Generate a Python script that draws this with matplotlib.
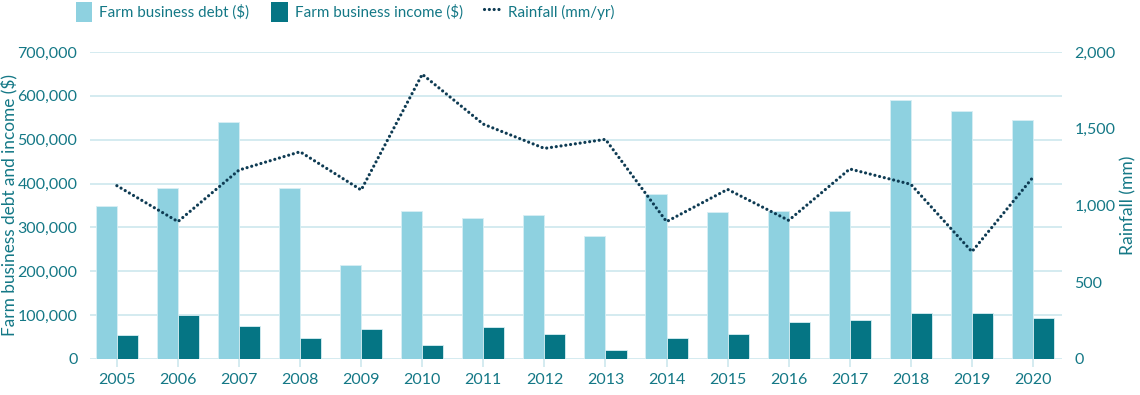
import matplotlib
matplotlib.use("Agg")
import matplotlib.pyplot as plt
import numpy as np
from matplotlib.ticker import FuncFormatter, FixedLocator
from matplotlib.patches import Patch
from matplotlib.lines import Line2D

years = ["2005", "2006", "2007", "2008", "2009", "2010", "2011", "2012",
         "2013", "2014", "2015", "2016", "2017", "2018", "2019", "2020"]
debt = [349000, 390000, 540000, 390000, 215000, 338000, 322000, 329000,
        281000, 377000, 335000, 338000, 338000, 590000, 565000, 546000]
income = [55000, 100000, 75000, 48000, 68000, 33000, 74000, 58000,
          20000, 48000, 58000, 84000, 90000, 106000, 106000, 93000]
rainfall = [1129, 895, 1231, 1350, 1101, 1855, 1530, 1372,
            1431, 895, 1105, 903, 1238, 1138, 699, 1184]

C_DEBT = "#8ed1e0"
C_INC = "#057584"
C_RAIN = "#0e3b53"
C_TEXT = "#147886"
C_GRID = "#cde7ee"
DOT = (0, (0.01, 1.5))

plt.rcParams['font.family'] = ['Lato', 'DejaVu Sans']

fig = plt.figure(figsize=(11.4, 3.95), dpi=100)
ax = fig.add_axes([90/1140, 1-359/395, (1062-90)/1140, (359-52)/395])
ax2 = ax.twinx()

x = np.arange(len(years))
w = 0.345
ax.bar(x - w/2, debt, w, color=C_DEBT, edgecolor="#d8eff4", linewidth=0.6, zorder=2)
ax.bar(x + w/2, income, w, color=C_INC, edgecolor="#d8eff4", linewidth=0.6, zorder=2)
ax2.plot(x, rainfall, color=C_RAIN, linewidth=2.3, linestyle=DOT,
         dash_capstyle="round", zorder=3)

ax.set_xlim(-0.44, 15.475)
ax.set_ylim(0, 700000)
ax2.set_ylim(0, 2000)
ax.yaxis.set_major_locator(FixedLocator(np.arange(0, 700001, 100000)))
ax2.yaxis.set_major_locator(FixedLocator(np.arange(0, 2001, 500)))
ax.yaxis.set_major_formatter(FuncFormatter(lambda v, p: f"{int(v):,}"))
ax2.yaxis.set_major_formatter(FuncFormatter(lambda v, p: f"{int(v):,}"))
ax.set_xticks(x)
ax.set_xticklabels(years)

ax.grid(axis="y", color=C_GRID, linewidth=1.2, zorder=0)
ax.set_axisbelow(True)
for a in (ax, ax2):
    for s in a.spines.values():
        s.set_visible(False)
ax.tick_params(axis="y", length=0, pad=9, labelsize=11.5, labelcolor=C_TEXT)
ax2.tick_params(axis="y", length=0, pad=9, labelsize=11.5, labelcolor=C_TEXT)
ax.tick_params(axis="x", length=6, color=C_GRID, width=1.2, pad=4,
               labelsize=11.5, labelcolor=C_TEXT)

ax.set_ylabel("Farm business debt and income ($)", color=C_TEXT, fontsize=12.4,
              va="center", ha="center")
ax.yaxis.set_label_coords(-80/972, 0.5)
ax2.set_ylabel("Rainfall (mm)", color=C_TEXT, fontsize=12.6, va="center", ha="center")
ax2.yaxis.set_label_coords(1038/972, 0.5)

handles = [Patch(facecolor=C_DEBT, edgecolor="none"),
           Patch(facecolor=C_INC, edgecolor="none"),
           Line2D([0], [0], color=C_RAIN, linewidth=2.3, linestyle=DOT,
                  dash_capstyle="round")]
labels = ["Farm business debt ($)", "Farm business income ($)", "Rainfall (mm/yr)"]
leg = fig.legend(handles, labels, loc="upper left", bbox_to_anchor=(62/1140, 1.03),
                 ncol=3, frameon=False, fontsize=10.9, handlelength=1.1, handleheight=1.7,
                 handletextpad=0.45, columnspacing=1.45, labelcolor=C_TEXT)

fig.savefig("out.png", dpi=100)
